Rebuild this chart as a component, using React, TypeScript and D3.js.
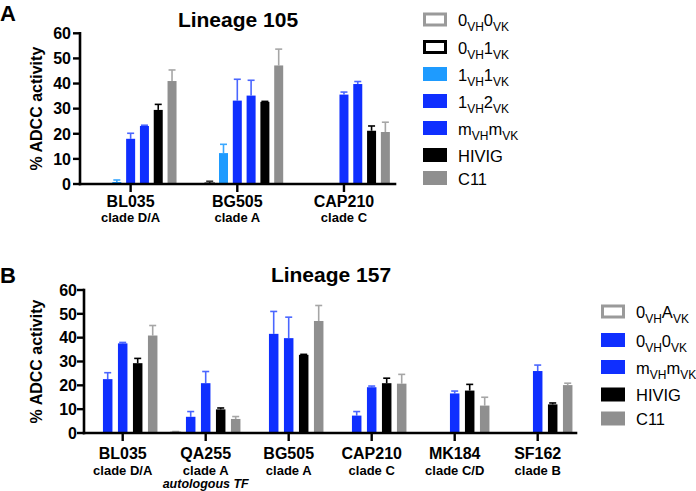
import React from "react";
import * as d3 from "d3";

const FONT = "'Liberation Sans', Arial, Helvetica, sans-serif";

// ---------- Panel A: Lineage 105 ----------
const categoriesA = ["BL035", "BG505", "CAP210"];
const cladesA = ["clade D/A", "clade A", "clade C"];
const notesA = ["", "", ""];
const labelsA = [
  ["0", "VH", "0", "VK"],
  ["0", "VH", "1", "VK"],
  ["1", "VH", "1", "VK"],
  ["1", "VH", "2", "VK"],
  ["m", "VH", "m", "VK"],
  ["HIVIG"],
  ["C11"],
];
const a0vh0vk = [null, null, null];
const a0vh1vk = [null, 0.3, null];
const a1vh1vk = [0.8, 12.3, null];
const a1vh2vk = [18.0, 33.2, 35.6];
const amvhmvk = [23.1, 35.2, 39.8];
const aHIVIG = [29.5, 32.7, 21.2];
const aC11 = [41.0, 47.2, 20.7];
const e0vh0vk = [null, null, null];
const e0vh1vk = [null, 0.8, null];
const e1vh1vk = [0.8, 3.5, null];
const e1vh2vk = [2.2, 8.5, 1.0];
const emvhmvk = [0.3, 6.1, 1.0];
const eHIVIG = [2.2, 0.2, 1.9];
const eC11 = [4.4, 6.5, 3.9];

// ---------- Panel B: Lineage 157 ----------
const categoriesB = ["BL035", "QA255", "BG505", "CAP210", "MK184", "SF162"];
const cladesB = ["clade D/A", "clade A", "clade A", "clade C", "clade C/D", "clade B"];
const notesB = ["", "autologous TF", "", "", "", ""];
const labelsB = [
  ["0", "VH", "A", "VK"],
  ["0", "VH", "0", "VK"],
  ["m", "VH", "m", "VK"],
  ["HIVIG"],
  ["C11"],
];
const b0vhavk = [null, 0.3, null, null, null, null];
const b0vh0vk = [22.6, 6.8, 41.6, 7.3, null, null];
const bmvhmvk = [37.6, 20.9, 39.8, 19.2, 16.6, 26.0];
const bHIVIG = [29.3, 9.9, 32.8, 20.9, 17.8, 12.0];
const bC11 = [40.9, 5.9, 47.0, 20.7, 11.5, 20.1];
const f0vhavk = [null, 0.3, null, null, null, null];
const f0vh0vk = [2.7, 2.2, 9.4, 1.7, null, null];
const fmvhmvk = [0.4, 4.9, 8.8, 0.5, 1.0, 2.5];
const fHIVIG = [2.0, 0.6, 0.2, 2.1, 2.6, 0.6];
const fC11 = [4.2, 1.0, 6.5, 3.9, 3.5, 0.8];

const yTicks = [0, 10, 20, 30, 40, 50, 60];

// styles
const BLUE = "#0f2fff";
const LBLUE = "#1e9bff";
const GREY = "#8f8f8f";
const stylesA = [
  { fill: "#ffffff", stroke: "#9a9a9a", err: "#9a9a9a" },
  { fill: "#ffffff", stroke: "#000000", err: "#333333" },
  { fill: LBLUE, stroke: null, err: "#3aa8ff" },
  { fill: BLUE, stroke: null, err: "#4a66ff" },
  { fill: BLUE, stroke: null, err: "#4a66ff" },
  { fill: "#000000", stroke: null, err: "#000000" },
  { fill: GREY, stroke: null, err: "#a6a6a6" },
];
const stylesB = [
  { fill: "#ffffff", stroke: "#9a9a9a", err: "#9a9a9a" },
  { fill: BLUE, stroke: null, err: "#4a66ff" },
  { fill: BLUE, stroke: null, err: "#4a66ff" },
  { fill: "#000000", stroke: null, err: "#000000" },
  { fill: GREY, stroke: null, err: "#a6a6a6" },
];

type Layout = {
  letter: string;
  letterY: number;
  title: string;
  titleX: number;
  titleY: number;
  axisX: number;
  axisEnd: number;
  y0: number;
  yTop: number;
  bandRange: [number, number];
  step: number;
  barW: number;
  nameY: number;
  cladeY: number;
  noteY: number;
  tickLabelGap: number;
  legendBoxX: number;
  legendTextX: number;
  legendRows: number[];
};

function LegendLabel({ parts, x, y }: { parts: string[]; x: number; y: number }) {
  return (
    <text x={x} y={y} fontFamily={FONT} fontSize={16.5} fill="#000">
      {parts.map((p, i) =>
        i % 2 === 1 ? (
          <tspan key={i} fontSize={12} dy={5}>{p}</tspan>
        ) : (
          <tspan key={i} dy={i === 0 ? 0 : -5}>{p}</tspan>
        )
      )}
    </text>
  );
}

function Panel({
  categories,
  clades,
  notes,
  labels,
  values,
  errors,
  styles,
  L,
}: {
  categories: string[];
  clades: string[];
  notes: string[];
  labels: string[][];
  values: (number | null)[][];
  errors: (number | null)[][];
  styles: { fill: string; stroke: string | null; err: string }[];
  L: Layout;
}) {
  const n = labels.length;
  const x = d3.scaleBand<string>().domain(categories).range(L.bandRange);
  const inner = d3
    .scaleBand<number>()
    .domain(d3.range(n))
    .range([-(n / 2) * L.step, (n / 2) * L.step])
    .paddingInner(1 - L.barW / L.step)
    .paddingOuter((1 - L.barW / L.step) / 2);
  const y = d3.scaleLinear().domain([0, 60]).range([L.y0, L.yTop]);
  const cx = (c: string) => (x(c) as number) + x.bandwidth() / 2;

  return (
    <g>
      <text x={0} y={L.letterY} fontFamily={FONT} fontWeight="bold" fontSize={22}>
        {L.letter}
      </text>
      <text
        x={L.titleX}
        y={L.titleY}
        textAnchor="middle"
        fontFamily={FONT}
        fontWeight="bold"
        fontSize={21}
      >
        {L.title}
      </text>
      <text
        transform={`translate(42,${(L.y0 + L.yTop) / 2}) rotate(-90)`}
        textAnchor="middle"
        fontFamily={FONT}
        fontWeight="bold"
        fontSize={16}
      >
        % ADCC activity
      </text>

      {/* bars */}
      {values.map((vals, si) =>
        vals.map((v, ci) => {
          if (v === null) return null;
          const st = styles[si];
          const bx = cx(categories[ci]) + (inner(si) as number);
          const top = y(v);
          const e = errors[si][ci];
          const bcx = bx + inner.bandwidth() / 2;
          return (
            <g key={`${si}-${ci}`}>
              {e !== null && (
                <g stroke={st.err} strokeWidth={1.6}>
                  <line x1={bcx} x2={bcx} y1={top} y2={y(v + e)} />
                  <line x1={bcx - 3.5} x2={bcx + 3.5} y1={y(v + e)} y2={y(v + e)} />
                </g>
              )}
              <rect
                x={bx}
                y={top}
                width={inner.bandwidth()}
                height={L.y0 - top}
                fill={st.fill}
                stroke={st.stroke ?? "none"}
                strokeWidth={st.stroke ? 1.5 : 0}
              />
            </g>
          );
        })
      )}

      {/* axes */}
      <g stroke="#000" strokeWidth={2.6} strokeLinecap="square">
        <line x1={L.axisX} x2={L.axisX} y1={L.yTop} y2={L.y0} />
        <line x1={L.axisX} x2={L.axisEnd} y1={L.y0} y2={L.y0} />
      </g>
      {yTicks.map((t) => (
        <g key={t}>
          <line x1={L.axisX - 7} x2={L.axisX} y1={y(t)} y2={y(t)} stroke="#000" strokeWidth={2.4} />
          <text
            x={L.axisX - L.tickLabelGap}
            y={y(t)}
            dy="0.36em"
            textAnchor="end"
            fontFamily={FONT}
            fontWeight="bold"
            fontSize={16}
          >
            {t}
          </text>
        </g>
      ))}
      {categories.map((c, i) => (
        <g key={c}>
          <line x1={cx(c)} x2={cx(c)} y1={L.y0} y2={L.y0 + 8} stroke="#000" strokeWidth={2.4} />
          <text x={cx(c)} y={L.nameY} textAnchor="middle" fontFamily={FONT} fontWeight="bold" fontSize={16}>
            {c}
          </text>
          <text x={cx(c)} y={L.cladeY} textAnchor="middle" fontFamily={FONT} fontWeight="bold" fontSize={13}>
            {clades[i]}
          </text>
          {notes[i] && (
            <text
              x={cx(c)}
              y={L.noteY}
              textAnchor="middle"
              fontFamily={FONT}
              fontWeight="bold"
              fontStyle="italic"
              fontSize={12.5}
            >
              {notes[i]}
            </text>
          )}
        </g>
      ))}

      {/* legend */}
      {labels.map((lab, i) => {
        const st = styles[i];
        const cy = L.legendRows[i];
        return (
          <g key={i}>
            {st.stroke ? (
              <rect
                x={L.legendBoxX + 1.5}
                y={cy - 5.5}
                width={21}
                height={11}
                fill="#fff"
                stroke={st.stroke}
                strokeWidth={3}
              />
            ) : (
              <rect x={L.legendBoxX} y={cy - 7} width={24} height={14} fill={st.fill} />
            )}
            <LegendLabel parts={lab} x={L.legendTextX} y={cy + 6.5} />
          </g>
        );
      })}
    </g>
  );
}

const layoutA: Layout = {
  letter: "A",
  letterY: 20.5,
  title: "Lineage 105",
  titleX: 238,
  titleY: 26.5,
  axisX: 80,
  axisEnd: 395,
  y0: 184,
  yTop: 33.3,
  bandRange: [77.3, 397.3],
  step: 13.8,
  barW: 9,
  nameY: 207,
  cladeY: 222,
  noteY: 235,
  tickLabelGap: 9,
  legendBoxX: 423,
  legendTextX: 458,
  legendRows: [19.5, 47, 74, 101, 128, 155, 178],
};

const layoutB: Layout = {
  letter: "B",
  letterY: 283,
  title: "Lineage 157",
  titleX: 331,
  titleY: 282,
  axisX: 84,
  axisEnd: 576,
  y0: 433,
  yTop: 290,
  bandRange: [81.2, 579.2],
  step: 15,
  barW: 9.5,
  nameY: 459,
  cladeY: 474.5,
  noteY: 488,
  tickLabelGap: 7,
  legendBoxX: 601,
  legendTextX: 636,
  legendRows: [311.5, 340, 367, 394.5, 418.5],
};

export default function App() {
  return (
    <svg
      width={696}
      height={491}
      style={{ position: "absolute", left: 0, top: 0, background: "#fff" }}
    >
      <rect width={696} height={491} fill="#fff" />
      <Panel
        categories={categoriesA}
        clades={cladesA}
        notes={notesA}
        labels={labelsA}
        values={[a0vh0vk, a0vh1vk, a1vh1vk, a1vh2vk, amvhmvk, aHIVIG, aC11]}
        errors={[e0vh0vk, e0vh1vk, e1vh1vk, e1vh2vk, emvhmvk, eHIVIG, eC11]}
        styles={stylesA}
        L={layoutA}
      />
      <Panel
        categories={categoriesB}
        clades={cladesB}
        notes={notesB}
        labels={labelsB}
        values={[b0vhavk, b0vh0vk, bmvhmvk, bHIVIG, bC11]}
        errors={[f0vhavk, f0vh0vk, fmvhmvk, fHIVIG, fC11]}
        styles={stylesB}
        L={layoutB}
      />
    </svg>
  );
}
